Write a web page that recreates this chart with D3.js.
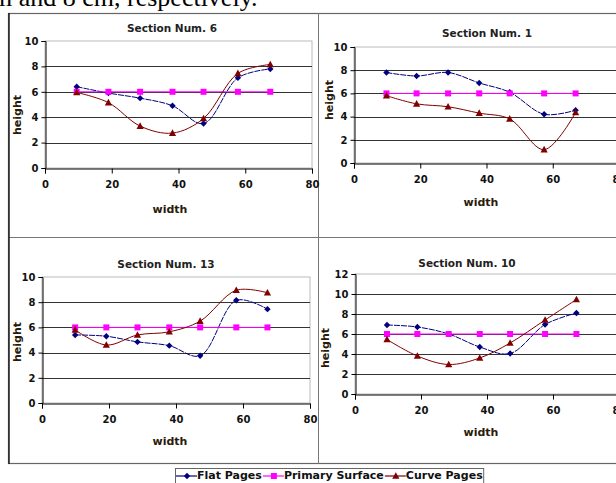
<!DOCTYPE html>
<html>
<head>
<meta charset="utf-8">
<script src="https://cdn.jsdelivr.net/npm/d3@7"></script>
<style>
  body { margin: 0; background: #fff; }
  svg { display: block; }
  text { font-family: "DejaVu Sans", sans-serif; }
</style>
</head>
<body>
<svg id="chart" width="616" height="483"></svg>
<script>
const xs6 = [9.5, 19, 28.5, 38.2, 47.5, 57.8, 67.5];
const xs1 = [9.8, 18.9, 28.4, 37.8, 47, 57.4, 66.9];
const xs13 = [9.9, 19.2, 28.5, 38, 47.2, 58, 67.3];
const xs10 = [9.7, 18.9, 28.4, 37.8, 47, 57.6, 67.1];

// Section Num. 6
const flat6 = [6.4, 5.9, 5.5, 4.9, 3.5, 7.1, 7.8];
const primary6 = [6, 6, 6, 6, 6, 6, 6];
const curve6 = [5.95, 5.15, 3.3, 2.75, 3.9, 7.45, 8.15];

// Section Num. 1
const flat1 = [7.8, 7.5, 7.8, 6.9, 6.1, 4.2, 4.55];
const primary1 = [6, 6, 6, 6, 6, 6, 6];
const curve1 = [5.8, 5.1, 4.85, 4.3, 3.8, 1.15, 4.35];

// Section Num. 13
const flat13 = [5.4, 5.3, 4.85, 4.55, 3.75, 8.15, 7.45];
const primary13 = [6, 6, 6, 6, 6, 6, 6];
const curve13 = [5.8, 4.6, 5.4, 5.65, 6.5, 8.95, 8.75];

// Section Num. 10
const flat10 = [6.9, 6.7, 6.0, 4.7, 4.05, 6.95, 8.1];
const primary10 = [6, 6, 6, 6, 6, 6, 6];
const curve10 = [5.45, 3.8, 2.95, 3.6, 5.1, 7.4, 9.45];

const seriesNames = ['Flat Pages', 'Primary Surface', 'Curve Pages'];
const seriesColors = ['#000080', '#ff00ff', '#800000'];
const xTicks = [0, 20, 40, 60, 80];
const yTicks10 = [0, 2, 4, 6, 8, 10];
const yTicks12 = [0, 2, 4, 6, 8, 10, 12];

const svg = d3.select('#chart');

// sentence cut off from the page above
svg.append('text')
  .attr('x', -8).attr('y', 6)
  .style('font-family', '"Liberation Serif", serif')
  .style('font-size', '26px')
  .text('m and 8 cm, respectively.');

// outer frame + dividers
svg.append('rect')
  .attr('x', 8.5).attr('y', 13.5).attr('width', 640).attr('height', 450)
  .attr('fill', 'none').attr('stroke', '#666').attr('stroke-width', 1.2);
svg.append('line').attr('x1', 318.5).attr('x2', 318.5).attr('y1', 13).attr('y2', 464)
  .attr('stroke', '#777');
svg.append('line').attr('x1', 8).attr('x2', 616).attr('y1', 237.5).attr('y2', 237.5)
  .attr('stroke', '#777');
svg.append('line').attr('x1', 9).attr('x2', 9).attr('y1', 13).attr('y2', 464)
  .attr('stroke', '#222').attr('stroke-width', 1.5);

const panels = [
  { title: 'Section Num. 6', xs: xs6, ys: [flat6, primary6, curve6], yMax: 10, yTicks: yTicks10,
    x0: 45, x1: 312, y0: 168, y1: 41, tx: 172, ty: 29, hx: 18, hy: 115, wx: 170, wy: 210 },
  { title: 'Section Num. 1', xs: xs1, ys: [flat1, primary1, curve1], yMax: 10, yTicks: yTicks10,
    x0: 354, x1: 619, y0: 163, y1: 47, tx: 487, ty: 34, hx: 330, hy: 100, wx: 481, wy: 203 },
  { title: 'Section Num. 13', xs: xs13, ys: [flat13, primary13, curve13], yMax: 10, yTicks: yTicks10,
    x0: 42, x1: 310, y0: 403, y1: 277, tx: 166, ty: 265, hx: 18, hy: 342, wx: 170, wy: 442 },
  { title: 'Section Num. 10', xs: xs10, ys: [flat10, primary10, curve10], yMax: 12, yTicks: yTicks12,
    x0: 355, x1: 619, y0: 394, y1: 274, tx: 467, ty: 264, hx: 326, hy: 348, wx: 481, wy: 433 }
];

const marker = (g, i, color) => {
  if (i === 0) {
    g.append('path').attr('d', 'M0,-3.2L3.2,0L0,3.2L-3.2,0Z').attr('fill', color);
  } else if (i === 1) {
    g.append('rect').attr('x', -3).attr('y', -3).attr('width', 6).attr('height', 6).attr('fill', color);
  } else {
    g.append('path').attr('d', 'M0,-3.8L3.6,2.8L-3.6,2.8Z').attr('fill', color);
  }
};

panels.forEach(p => {
  const x = d3.scaleLinear().domain([0, 80]).range([p.x0, p.x1]);
  const y = d3.scaleLinear().domain([0, p.yMax]).range([p.y0, p.y1]);
  const g = svg.append('g');

  // plot area border (light)
  g.append('rect')
    .attr('x', p.x0).attr('y', p.y1).attr('width', p.x1 - p.x0).attr('height', p.y0 - p.y1)
    .attr('fill', 'none').attr('stroke', '#bbb');

  // gridlines
  g.selectAll('.grid').data(p.yTicks.filter(t => t > 0 && t < p.yMax)).join('line')
    .attr('x1', p.x0).attr('x2', p.x1)
    .attr('y1', d => Math.round(y(d)) + 0.5).attr('y2', d => Math.round(y(d)) + 0.5)
    .attr('stroke', '#333').attr('stroke-width', 1.1);

  const xAxis = g.append('g')
    .attr('transform', `translate(0,${Math.round(p.y0) + 0.5})`)
    .call(d3.axisBottom(x).tickValues(xTicks).tickSize(5).tickPadding(7));
  const yAxis = g.append('g')
    .attr('transform', `translate(${Math.round(p.x0) + 0.5},0)`)
    .call(d3.axisLeft(y).tickValues(p.yTicks).tickSize(4).tickPadding(3));
  [xAxis, yAxis].forEach(a => {
    a.select('.domain').attr('stroke', '#000');
    a.selectAll('.tick line').attr('stroke', '#000');
    a.selectAll('text').style('font-family', '"DejaVu Sans", sans-serif')
      .style('font-size', '10px').style('font-weight', 'bold').attr('fill', '#111');
  });

  g.append('text').attr('x', p.tx).attr('y', p.ty).attr('text-anchor', 'middle')
    .attr('dominant-baseline', 'middle')
    .style('font-size', '10.5px').style('font-weight', 'bold').attr('fill', '#222')
    .text(p.title);
  g.append('text').attr('x', p.wx).attr('y', p.wy).attr('text-anchor', 'middle')
    .attr('dominant-baseline', 'middle')
    .style('font-size', '11px').style('font-weight', 'bold').attr('fill', '#2a1a0a')
    .text('width');
  g.append('text')
    .attr('transform', `translate(${p.hx},${p.hy}) rotate(-90)`)
    .attr('text-anchor', 'middle').attr('dominant-baseline', 'middle')
    .style('font-size', '11px').style('font-weight', 'bold').attr('fill', '#2a1a0a')
    .text('height');

  p.ys.forEach((vals, i) => {
    const pts = vals.map((v, k) => [p.xs[k], v]);
    const line = d3.line()
      .x(d => x(d[0])).y(d => y(d[1]))
      .curve(i === 1 ? d3.curveLinear : d3.curveCatmullRom.alpha(0.5));
    g.append('path').datum(pts)
      .attr('d', line).attr('fill', 'none')
      .attr('stroke', seriesColors[i]).attr('stroke-width', 1)
      .attr('stroke-dasharray', i === 0 ? '6,1' : null);
    pts.forEach(d => {
      const m = g.append('g').attr('transform', `translate(${x(d[0])},${y(d[1])})`);
      marker(m, i, seriesColors[i]);
    });
  });
});

// legend
const lg = svg.append('g');
const legRect = lg.append('rect').attr('x', 175.5).attr('y', 468.5).attr('height', 20)
  .attr('fill', '#fff').attr('stroke', '#666');
let cx = 176;
seriesNames.forEach((name, i) => {
  lg.append('line').attr('x1', cx).attr('x2', cx + 21).attr('y1', 476).attr('y2', 476)
    .attr('stroke', seriesColors[i]).attr('stroke-width', 1.2);
  const m = lg.append('g').attr('transform', `translate(${cx + 11},476)`);
  marker(m, i, seriesColors[i]);
  const t = lg.append('text').attr('x', cx + 21).attr('y', 476)
    .attr('dominant-baseline', 'middle')
    .style('font-size', '11px').style('font-weight', 'bold').attr('fill', '#111')
    .text(name);
  cx += 21 + t.node().getComputedTextLength() + 1;
});
legRect.attr('width', cx - 175.5);
</script>
</body>
</html>
